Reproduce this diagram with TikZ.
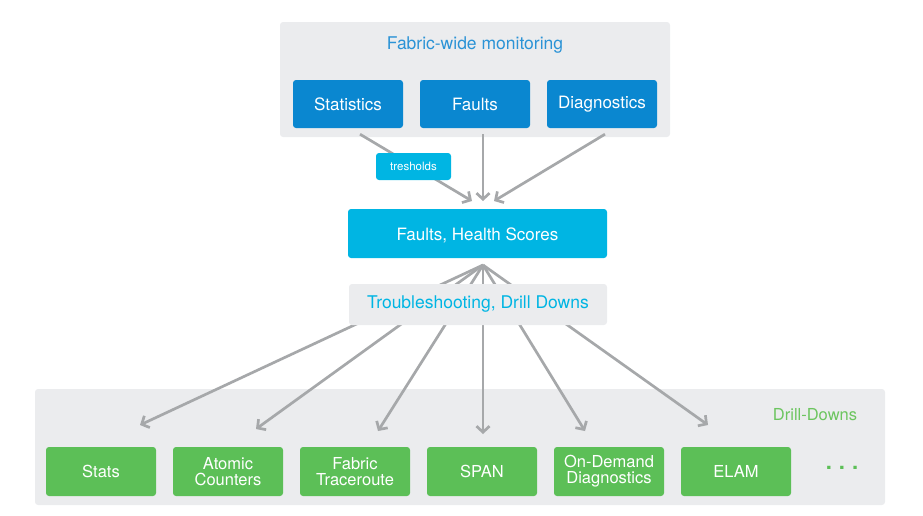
\documentclass[tikz,border=0pt]{standalone}
\usepackage{fontspec}
\setmainfont{TeX Gyre Heros}
\usetikzlibrary{arrows.meta, positioning}
\definecolor{panelgray}{HTML}{EBECEE}
\definecolor{monblue}{HTML}{0A87D0}
\definecolor{titleblue}{HTML}{2B93D6}
\definecolor{healthcyan}{HTML}{00B5E3}
\definecolor{drillgreen}{HTML}{5CBF57}
\definecolor{labelgreen}{HTML}{6CC55F}
\definecolor{arrowgray}{HTML}{A6A8AA}
\tikzstyle{panel}=[fill=panelgray,rounded corners=3pt]
\tikzstyle{monbox}=[fill=monblue,text=white,rectangle,rounded corners=3pt,minimum width=110pt,minimum height=48pt,inner sep=0pt,font=\fontsize{17}{19}\selectfont]
\tikzstyle{drillbox}=[monbox,fill=drillgreen,minimum height=49pt,align=center,font=\fontsize{16.5}{16}\selectfont]
\tikzstyle{flow}=[draw=arrowgray,line width=2.7pt,-{Straight Barb[length=6pt,width=13pt,line width=2.7pt]}]

\begin{document}
\begin{tikzpicture}[x=1pt,y=-1pt]
  \useasboundingbox (0,0) rectangle (923,515);
  % panels
  \fill[panel] (280,22) rectangle (670,137);
  \fill[panel] (35,389) rectangle (885,505);
  \node[text=titleblue,font=\fontsize{17.5}{19}\selectfont] (montitle) at (475,45) {Fabric-wide monitoring};
  \node[text=labelgreen,font=\fontsize{16.5}{18}\selectfont] (drilltitle) at (815,415) {Drill-Downs};
  % monitoring sources
  \node[monbox] (stats) at (348,104) {Statistics};
  \node[monbox] (faults) at (475,104) {Faults};
  \node[monbox] (diag) at (602,104) {Diagnostics};
  \node[monbox,fill=healthcyan,minimum width=259pt,minimum height=49pt,text height=14pt,text depth=0pt] (health) at (477.5,233.5) {Faults, Health Scores};
  \coordinate (in1) at (472,201);
  \coordinate (in2) at (483,201);
  \coordinate (in3) at (494,201);
  \draw[flow] ([xshift=12pt,yshift=-6pt]stats.south) -- (in1);
  \draw[flow] ([xshift=8pt,yshift=-6pt]faults.south) -- (in2);
  \draw[flow] ([xshift=3pt,yshift=-6pt]diag.south) -- (in3);
  \node[monbox,fill=healthcyan,minimum width=75pt,minimum height=27pt,font=\fontsize{11.5}{13}\selectfont] (tresh) at (413.5,166.5) {tresholds};
  % drill-downs
  \node[drillbox] (dstats) at (101,471.5) {Stats};
  \node[drillbox] (atomic) at (228,471.5) {Atomic\\Counters};
  \node[drillbox] (trace) at (355,471.5) {Fabric\\Traceroute};
  \node[drillbox] (span) at (482,471.5) {SPAN};
  \node[drillbox] (ondemand) at (609,471.5) {On-Demand\\Diagnostics};
  \node[drillbox] (elam) at (736,471.5) {ELAM};
  \node[text=drillgreen,font=\fontsize{22}{22}\selectfont\bfseries] (more) at (842,468) {.\hspace{7pt}.\hspace{7pt}.};
  \coordinate (fan) at (483,265);
  \coordinate (d1) at (140,425);
  \coordinate (d2) at (256,429);
  \coordinate (d3) at (378,431);
  \coordinate (d4) at (483,434);
  \coordinate (d5) at (585,431);
  \coordinate (d6) at (708,425);
  \foreach \d in {d1,d2,d3,d4,d5,d6}
    \draw[flow] (fan) -- (\d);
  \node[monbox,fill=panelgray,text=healthcyan,minimum width=258pt,minimum height=41pt,font=\fontsize{17.5}{19}\selectfont] (trouble) at (478,304.5) {Troubleshooting, Drill Downs};
\end{tikzpicture}
\end{document}
